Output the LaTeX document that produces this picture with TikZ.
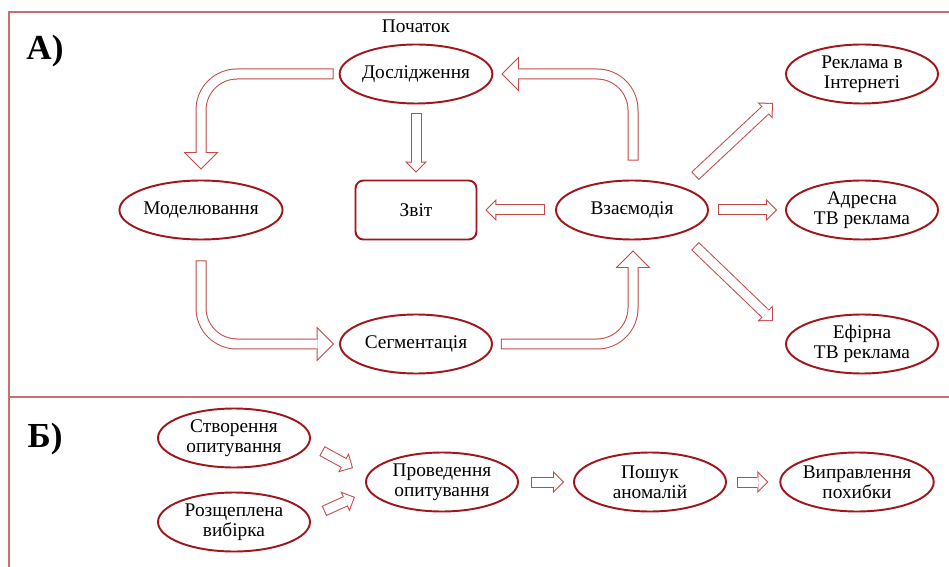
\documentclass[tikz,border=0pt]{standalone}
\usepackage{fontspec}
\setmainfont{Liberation Serif}
\usepackage{tikz}
\usetikzlibrary{positioning, arrows.meta, shapes.geometric, calc}

\definecolor{ovalred}{RGB}{160,22,26}
\definecolor{flowred}{RGB}{196,72,72}
\definecolor{framered}{RGB}{204,110,110}

\tikzset{
    oval/.style={ellipse, draw=ovalred, line width=1.1pt, fill=white,
        minimum width=3.04cm, minimum height=1.18cm, inner sep=0pt,
        align=center, font=\fontsize{11}{11.5}\selectfont},
    box/.style={rectangle, rounded corners=0.16cm, draw=ovalred, line width=1.1pt,
        minimum width=2.42cm, minimum height=1.18cm, inner sep=0pt,
        font=\fontsize{11}{11.5}\selectfont},
    part/.style={font=\fontsize{20}{22}\selectfont\bfseries},
    frame/.style={draw=framered, line width=0.75pt},
    % hollow block arrow: red shaft and head, white core on top
    blockarrow/.style n args={5}{draw=white, line width=0.18cm, line cap=butt,
        shorten <=0.02cm, shorten >=0.0283cm,
        -{Triangle[length=#3, width=#4, line width=0pt]},
        preaction={draw=flowred, line width=0.22cm, shorten <=0pt, shorten >=0pt,
            -{Triangle[length=#1, width=#2, line width=0pt]}},
        preaction={draw=white, arrows=-, shorten >=#5}},
    flow/.style={blockarrow={0.22cm}{0.44cm}{0.172cm}{0.343cm}{0.18cm}},
    bigflow/.style={blockarrow={0.35cm}{0.70cm}{0.302cm}{0.603cm}{0.31cm},
        rounded corners=0.72cm}
}

\begin{document}
\begin{tikzpicture}[x=0.02cm, y=-0.02cm]
    \useasboundingbox (0,0) rectangle (949,567);
    \clip (0,0) rectangle (949,567);

    % Frame
    \draw[frame] (9,12) rectangle (980,600);
    \draw[frame] (9,397) -- (980,397);

    \node[part] (A) at (45,51) {А)};
    \node[part] (B) at (45,439) {Б)};

    % Define nodes
    \node[font=\fontsize{11}{11.5}\selectfont] (beg) at (416,26) {Початок};
    \node[oval] (res) at (416,74) {Дослідження};
    \node[oval] (model) at (201,210) {Моделювання};
    \node[box] (report) at (416,210) {Звіт};
    \node[oval] (act) at (632,210) {Взаємодія};
    \node[oval] (seg) at (416,344) {Сегментація};
    \node[oval] (web) at (862,74) {Реклама в\\Інтернеті};
    \node[oval] (tva) at (862,210) {Адресна\\ТВ реклама};
    \node[oval] (tvb) at (862,344) {Ефірна\\ТВ реклама};

    \node[oval] (make) at (234,438) {Створення\\опитування};
    \node[oval] (split) at (234,522) {Розщеплена\\вибірка};
    \node[oval] (run) at (442,482) {Проведення\\опитування};
    \node[oval] (find) at (650,482) {Пошук\\аномалій};
    \node[oval] (fix) at (857,482) {Виправлення\\похибки};

    % Draw arrows
    \draw[bigflow] ($(res.west)+(-5,0)$) -| ($(model.north)+(0,-10)$);
    \draw[bigflow] ($(model.south)+(0,20)$) |- ($(seg.west)+(-5,0)$);
    \draw[bigflow] ($(seg.east)+(8,0)$) -| ($(act.south)+(1,10)$);
    \draw[bigflow] ($(act.north)+(1,-19)$) |- ($(res.east)+(8,0)$);

    \draw[flow] ($(res.south)+(0,9)$) -- ($(report.north)+(0,-7)$);
    \draw[flow] ($(act.west)+(-10,0)$) -- ($(report.east)+(8,0)$);
    \draw[flow] ($(act.east)+(9,0)$) -- ($(tva.west)+(-8,0)$);
    \draw[flow] ($(act)+(63,-34)$) -- ($(web)+(-89,29)$);
    \draw[flow] ($(act)+(63,36)$) -- ($(tvb)+(-89,-23)$);

    \draw[flow] ($(make)+(88,13)$) -- ($(run)+(-89,-14)$);
    \draw[flow] ($(split)+(90,-11)$) -- ($(run)+(-87,15)$);
    \draw[flow] ($(run.east)+(12,0)$) -- ($(find.west)+(-9,0)$);
    \draw[flow] ($(find.east)+(10,0)$) -- ($(fix.west)+(-11,0)$);
\end{tikzpicture}
\end{document}
